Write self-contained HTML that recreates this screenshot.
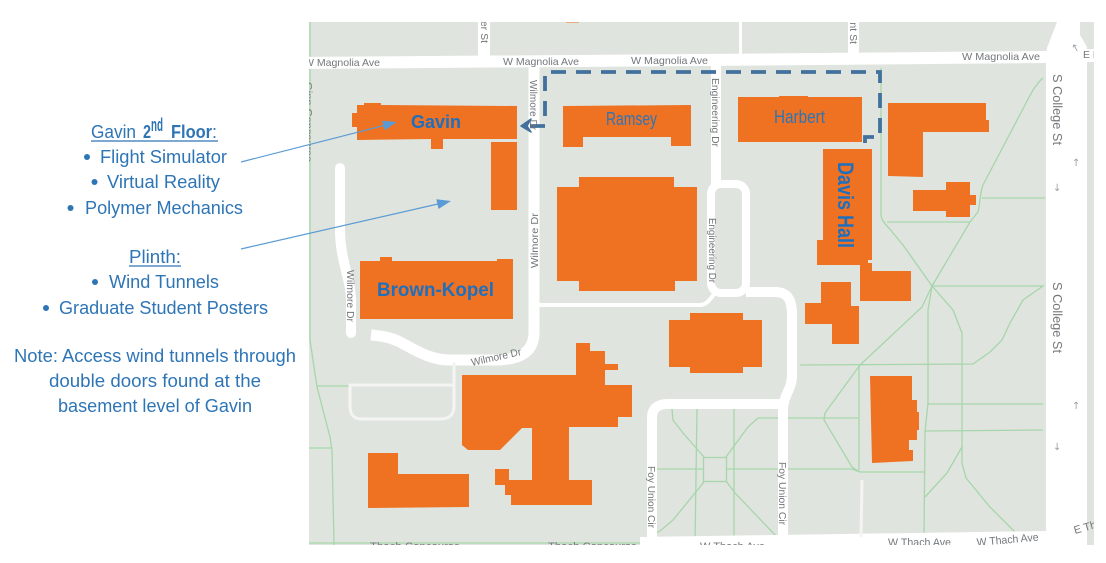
<!DOCTYPE html>
<html><head><meta charset="utf-8"><style>
html,body{margin:0;padding:0;background:#fff;width:1106px;height:563px;overflow:hidden}
svg{display:block}
.t{font-family:"Liberation Sans",Arial,sans-serif;fill:#2e75b6;font-size:18px}
.b{font-family:"Liberation Sans",Arial,sans-serif;font-weight:bold;fill:#1f6fbd}
.l{font-family:"Liberation Sans",Arial,sans-serif;fill:#73777b;font-size:10.5px}
.g{fill:none;stroke:#a6d6aa;stroke-width:1.3}
.r{fill:none;stroke:#fff;stroke-linejoin:round}
.o{fill:#ef7122}
</style></head><body>
<svg width="1106" height="563" viewBox="0 0 1106 563" xmlns="http://www.w3.org/2000/svg">
<defs><clipPath id="m"><rect x="309" y="22" width="785" height="523"/></clipPath></defs>
<rect width="1106" height="563" fill="#fff"/>
<g clip-path="url(#m)">
<rect x="309" y="22" width="785" height="523" fill="#e0e4de"/>

<!-- green paths -->
<g class="g">
<path d="M310,22 L310,340 L317,387 L330,437 L332,450 L334,545"/>
<path d="M317,386 L349,386"/>
<path d="M309,448 L331,448"/>
<path d="M309,543 L640,543"/>
<path d="M672,409 L673,420 L683,433 L704,457"/>
<path d="M697,409 L695,545"/>
<path d="M734,409 L734,545"/>
<rect x="703.5" y="457.5" width="23" height="24"/>
<path d="M726,457 L748,427 L758,418 L858,418"/>
<path d="M657,469 L703,469"/>
<path d="M726,469 L852,469 L860,472 L924,472"/>
<path d="M704,482 L673,520 L660,531 L640,541"/>
<path d="M726,481 L735,493 L777,537"/>
<path d="M881,68 L881,214 C881,222 888,226 893,233 L903,245 L932,286"/>
<path d="M887,222 L970,222"/>
<path d="M1043,78 C1035,85 1030,95 1025,105 L983,185 C980,192 980,205 978,212 L970,222 L932,286"/>
<path d="M982,198 L1045,198"/>
<path d="M932,286 L1043,286 L1023,300 L1010,323 L1002,340 L990,352 L973,364 L800,365"/>
<path d="M932,286 L953,310 L962,333 L962,463 L966,478 L990,507 L1015,532"/>
<path d="M932,286 L922,307 L860,365 L825,413 L824,420 L852,467 L860,472"/>
<path d="M859,365 L859,470"/>
<path d="M932,286 L928,310 L928,403 L925,432 L924,537"/>
<path d="M928,404 L1043,404"/>
<path d="M925,431 L1043,430"/>
<path d="M962,447 L947,473 L925,497"/>
</g>

<!-- roads -->
<polygon points="300,57 700,54 1046,51 1094,49 1094,62 1046,63 700,66 300,69" fill="#fff"/>
<rect x="478" y="20" width="12" height="40" fill="#fff"/>
<rect x="848" y="20" width="11" height="36" fill="#fff"/>
<rect x="739" y="20" width="3" height="36" fill="#fff"/>
<polygon points="1046,545 1046,60 1047,48 1057,22 1080,22 1080,35 1087,47 1087,545" fill="#fff"/>
<polygon points="640,537 1046,531 1046,546 640,546" fill="#fff"/>
<g class="r">
<path d="M534,60 L534,332 C534,352 520,360 495,360 L450,360 C430,360 415,350 400,342 C390,337 382,336 371,335" stroke-width="11"/>
<path d="M340,168 L340,230 C340,260 351,280 351,300 L351,333" stroke-width="10" stroke-linecap="round"/>
<path d="M539,305 L700,305 C706,305 710,300 714,294" stroke-width="4"/>
<path d="M716,60 L716,184" stroke-width="10"/>
<rect x="711" y="184" width="35" height="109" rx="10" stroke-width="8"/>
<path d="M746,292 L775,292 C788,292 792,300 792,315 L792,375 C792,390 783,395 783,410 L783,545" stroke-width="10"/>
<path d="M652,546 L652,418 C652,408 658,404 668,404 L783,404" stroke-width="10"/>
<path d="M454,362 L454,406 C454,416 448,419 440,419 L362,419 C353,419 350,414 350,406 L350,385 L454,385" stroke-width="3" stroke="#f4f5f2"/>
<path d="M862,480 L861,537" stroke-width="3" stroke="#f4f5f2"/>
</g>

<!-- buildings -->
<rect x="566" y="20" width="13" height="2.5" class="o"/>
<polygon class="o" points="352,113 357,113 357,105 364,105 364,103 381,103 381,105 517,106 517,139 443,139 443,149 431,149 431,139 357,140 357,127 352,127"/>
<rect class="o" x="491" y="142" width="26" height="68"/>
<polygon class="o" points="563,106 691,105 691,146 671,146 671,137 583,137 583,147 563,147"/>
<polygon class="o" points="738,97 779,97 779,96 808,96 808,97 862,97 862,142 738,142"/>
<polygon class="o" points="888,103 986,103 986,120 989,120 989,132 923,132 923,177 888,176"/>
<polygon class="o" points="946,182 970,182 970,195 976,195 976,205 970,205 970,217 946,217 946,211 913,211 913,190 946,190"/>
<polygon class="o" points="823,149 872,149 872,260 868,260 868,265 817,265 817,240 823,240"/>
<polygon class="o" points="860,263 872,263 872,271 911,271 911,301 860,301"/>
<polygon class="o" points="821,282 851,282 851,306 859,306 859,344 832,344 832,324 805,324 805,303 821,303"/>
<polygon class="o" points="557,187 579,187 579,177 674,177 674,187 697,187 697,281 675,281 675,291 579,291 579,281 557,281"/>
<polygon class="o" points="669,320 690,320 690,313 743,313 743,320 762,320 762,367 743,367 743,373 690,373 690,367 669,367"/>
<polygon class="o" points="360,261 380,261 380,257 392,257 392,261 497,261 497,259 513,259 513,319 360,319"/>
<polygon class="o" points="576,343 590,343 590,351 605,351 605,364 618,364 618,370 605,370 605,385 632,385 632,417 618,417 618,427 569,427 569,480 592,480 592,505 511,505 511,495 505,495 505,485 495,485 495,469 509,469 509,480 532,480 532,428 522,428 500,450 468,450 462,445 462,375 576,375"/>
<polygon class="o" points="368,453 398,453 398,474 469,474 469,507 368,508"/>
<polygon class="o" points="870,376 912,376 912,400 917,400 917,412 919,412 919,430 917,430 917,440 909,440 909,450 913,450 913,461 872,463"/>

<!-- route dashed -->
<path d="M530,126 L545,126 L545,72 L880,72 L880,137 L865,137 L865,147" fill="none" stroke="#41719c" stroke-width="3.8" stroke-dasharray="15 10"/>
<polygon points="521,126 531,119 527,126 531,132" fill="#41719c" stroke="#41719c" stroke-width="1.5" stroke-linejoin="round"/>

<!-- map labels -->
<text class="l" x="304" y="66" textLength="76" lengthAdjust="spacingAndGlyphs">W Magnolia Ave</text>
<text class="l" x="503" y="65" textLength="76" lengthAdjust="spacingAndGlyphs">W Magnolia Ave</text>
<text class="l" x="631" y="64" textLength="77" lengthAdjust="spacingAndGlyphs">W Magnolia Ave</text>
<text class="l" x="962" y="60" textLength="78" lengthAdjust="spacingAndGlyphs">W Magnolia Ave</text>
<text class="l" x="1083" y="58">E Magnolia</text>
<text class="l" transform="translate(481,43) rotate(90)" text-anchor="end">er St</text>
<text class="l" transform="translate(850,44) rotate(90)" text-anchor="end">nt St</text>
<text class="l" transform="translate(305,82) rotate(90)" textLength="80" lengthAdjust="spacingAndGlyphs">Ginn Concourse</text>
<text class="l" transform="translate(530,80) rotate(90)" textLength="50" lengthAdjust="spacingAndGlyphs">Wilmore Dr</text>
<text class="l" transform="translate(538,268) rotate(-90)" textLength="55" lengthAdjust="spacingAndGlyphs">Wilmore Dr</text>
<text class="l" transform="translate(347,270) rotate(90)" textLength="52" lengthAdjust="spacingAndGlyphs">Wilmore Dr</text>
<text class="l" transform="translate(472,366) rotate(-12.5)" textLength="51" lengthAdjust="spacingAndGlyphs">Wilmore Dr</text>
<text class="l" transform="translate(712,78) rotate(90)" textLength="69" lengthAdjust="spacingAndGlyphs">Engineering Dr</text>
<text class="l" transform="translate(709,218) rotate(90)" textLength="65" lengthAdjust="spacingAndGlyphs">Engineering Dr</text>
<text class="l" transform="translate(648,466) rotate(90)" textLength="62" lengthAdjust="spacingAndGlyphs">Foy Union Cir</text>
<text class="l" transform="translate(779,462) rotate(90)" textLength="63" lengthAdjust="spacingAndGlyphs">Foy Union Cir</text>
<text class="l" style="font-size:12.5px" transform="translate(1053,74) rotate(90)" textLength="71" lengthAdjust="spacingAndGlyphs">S College St</text>
<text class="l" style="font-size:12.5px" transform="translate(1053,282) rotate(90)" textLength="71" lengthAdjust="spacingAndGlyphs">S College St</text>
<text class="l" style="font-size:11px" x="370" y="550" textLength="90" lengthAdjust="spacingAndGlyphs">Thach Concourse</text>
<text class="l" style="font-size:11px" x="548" y="550" textLength="89" lengthAdjust="spacingAndGlyphs">Thach Concourse</text>
<text class="l" style="font-size:11px" x="700" y="550" textLength="65" lengthAdjust="spacingAndGlyphs">W Thach Ave</text>
<text class="l" style="font-size:11px" x="888" y="546" textLength="63" lengthAdjust="spacingAndGlyphs">W Thach Ave</text>
<text class="l" style="font-size:11px" transform="translate(977,546) rotate(-5)" textLength="62" lengthAdjust="spacingAndGlyphs">W Thach Ave</text>
<text class="l" style="font-size:11px" transform="translate(1075,534) rotate(-16)">E Thach</text>
<g fill="#9da1a4" font-family="'DejaVu Sans',sans-serif" font-size="10">
<text x="1072" y="166">↑</text><text x="1053" y="191">↓</text>
<text x="1072" y="409">↑</text><text x="1053" y="450">↓</text>
<text x="1071" y="51" transform="rotate(-30 1076 47)">↑</text>
</g>

<!-- building labels -->
<text class="b" x="411" y="128" font-size="18" textLength="50" lengthAdjust="spacingAndGlyphs">Gavin</text>
<text class="t" x="606" y="125" font-size="14" textLength="51" lengthAdjust="spacingAndGlyphs">Ramsey</text>
<text class="t" x="774" y="123" font-size="15" textLength="51" lengthAdjust="spacingAndGlyphs">Harbert</text>
<text class="b" x="377" y="296" font-size="19.5" textLength="117" lengthAdjust="spacingAndGlyphs">Brown-Kopel</text>
<text class="b" font-size="22" transform="translate(838,162) rotate(90)" textLength="86" lengthAdjust="spacingAndGlyphs">Davis Hall</text>
</g>

<!-- annotation arrows -->
<g stroke="#5b9bd5" stroke-width="1.2" fill="#5b9bd5">
<line x1="241" y1="162" x2="386" y2="125"/>
<polygon points="397,122 384.6,130.3 382.2,120.7" stroke="none"/>
<line x1="241" y1="249" x2="440" y2="203.5"/>
<polygon points="451,201 438.5,209 436.3,199.2" stroke="none"/>
</g>

<!-- left text -->
<text class="t" x="91" y="138" textLength="45" lengthAdjust="spacingAndGlyphs">Gavin</text>
<text class="t" x="143" y="138" font-weight="bold" textLength="8" lengthAdjust="spacingAndGlyphs">2</text>
<text class="t" x="151" y="131" font-weight="bold" font-size="11" textLength="12" lengthAdjust="spacingAndGlyphs">nd</text>
<text class="t" x="171" y="138" font-weight="bold" textLength="41" lengthAdjust="spacingAndGlyphs">Floor</text>
<text class="t" x="212" y="138">:</text>
<line x1="91" y1="141" x2="218" y2="141" stroke="#2e75b6" stroke-width="1.2"/>
<g fill="#2e75b6">
<circle cx="87" cy="157" r="3"/>
<circle cx="94.5" cy="182" r="3"/>
<circle cx="70.5" cy="208" r="3"/>
<circle cx="95" cy="282" r="3"/>
<circle cx="46" cy="308" r="3"/>
</g>
<text class="t" x="100" y="163" textLength="127" lengthAdjust="spacingAndGlyphs">Flight Simulator</text>
<text class="t" x="107" y="188" textLength="113" lengthAdjust="spacingAndGlyphs">Virtual Reality</text>
<text class="t" x="85" y="214" textLength="158" lengthAdjust="spacingAndGlyphs">Polymer Mechanics</text>
<text class="t" x="129" y="263" textLength="52" lengthAdjust="spacingAndGlyphs">Plinth:</text>
<line x1="129" y1="266" x2="181" y2="266" stroke="#2e75b6" stroke-width="1.2"/>
<text class="t" x="109" y="288" textLength="110" lengthAdjust="spacingAndGlyphs">Wind Tunnels</text>
<text class="t" x="59" y="314" textLength="209" lengthAdjust="spacingAndGlyphs">Graduate Student Posters</text>
<text class="t" x="14" y="362" textLength="282" lengthAdjust="spacingAndGlyphs">Note: Access wind tunnels through</text>
<text class="t" x="49" y="387" textLength="212" lengthAdjust="spacingAndGlyphs">double doors found at the</text>
<text class="t" x="58" y="412" textLength="194" lengthAdjust="spacingAndGlyphs">basement level of Gavin</text>
</svg>
</body></html>
